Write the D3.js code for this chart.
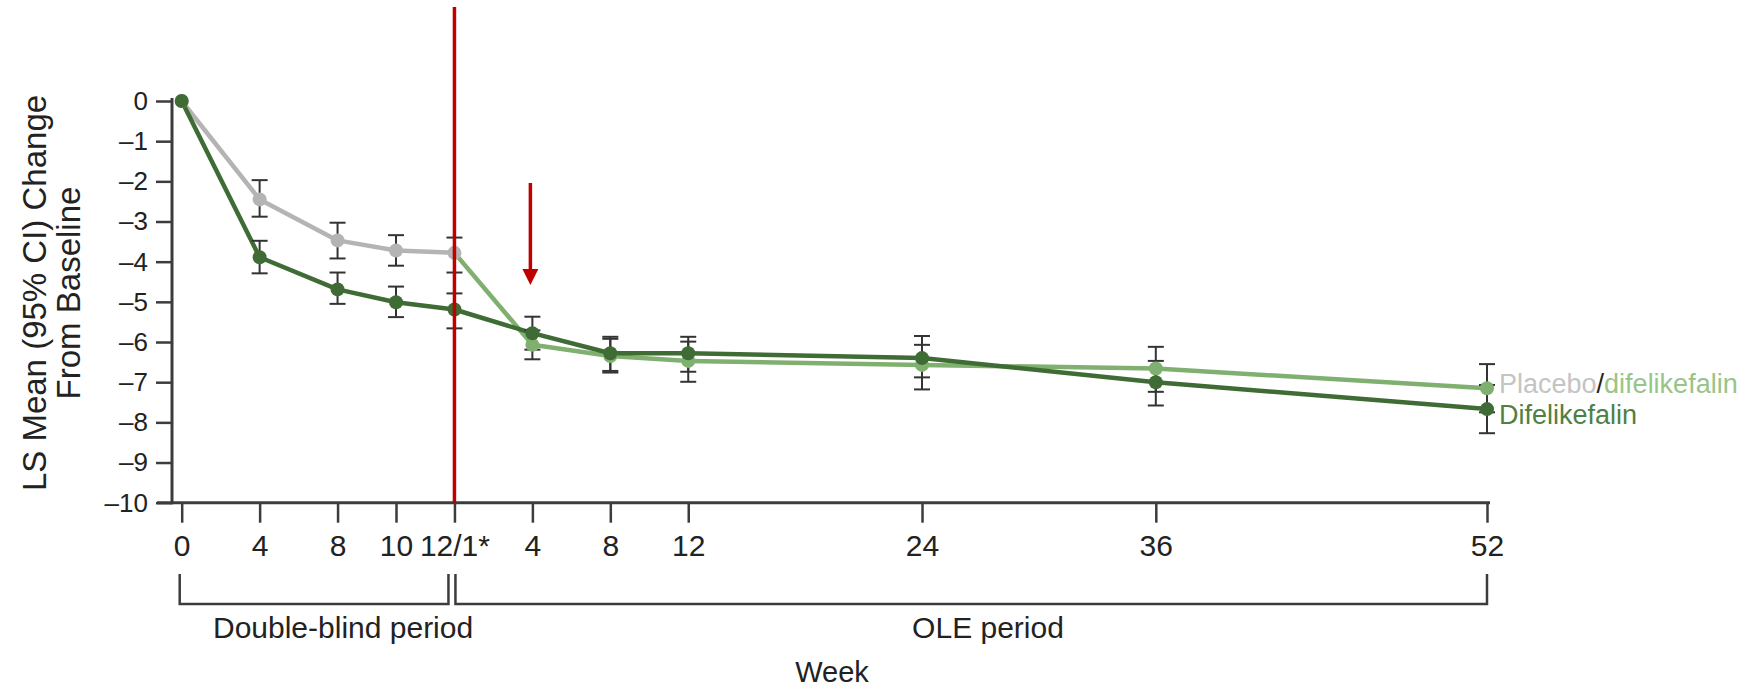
<!DOCTYPE html>
<html>
<head>
<meta charset="utf-8">
<script src="https://cdn.jsdelivr.net/npm/d3@7"></script>
<style>
    body { margin: 0; background: #fff; }
    svg { display: block; font-family: Arial, "Liberation Sans", sans-serif; }
</style>
</head>
<body>
<div id="chart"></div>
<script>
// Visits (double-blind weeks, then OLE weeks)
const visitLabels = ["0", "4", "8", "10", "12/1*", "4", "8", "12", "24", "36", "52"];

// Placebo/difelikefalin: LS mean and 95% CI
const placeboMean  = [0, -2.45, -3.47, -3.72, -3.78, -6.07, -6.35, -6.47, -6.57, -6.66, -7.15];
const placeboUpper = [0, -1.97, -3.03, -3.34, -3.40, -5.71, -5.92, -5.99, -6.07, -6.12, -6.55];
const placeboLower = [0, -2.88, -3.92, -4.10, -4.27, -6.43, -6.76, -6.99, -7.18, -7.24, -7.75];

// Difelikefalin: LS mean and 95% CI
const difMean  = [0, -3.89, -4.69, -5.01, -5.19, -5.78, -6.28, -6.28, -6.40, -7.00, -7.67];
const difUpper = [0, -3.48, -4.27, -4.62, -4.79, -5.37, -5.87, -5.87, -5.85, -6.47, -7.07];
const difLower = [0, -4.29, -5.05, -5.38, -5.66, -6.19, -6.72, -6.74, -6.88, -7.58, -8.27];

const yTicks = d3.range(-10, 1);

// Colours
const grey = "#b4b4b4";
const lightGreen = "#80b06f";
const darkGreen = "#3f6b35";
const red = "#c00000";
const axisColor = "#3c3c3c";

// Set up SVG
const width = 1744;
const height = 687;

const svg = d3.select("#chart")
    .append("svg")
    .attr("width", width)
    .attr("height", height);

// The printed axis is not to scale: spacing between visits in week-like units
const axisGaps = [0, 4, 4, 3, 3, 4, 4, 4, 12, 12, 17];
const slot = Array.from(d3.cumsum(axisGaps));

const x = d3.scaleLinear()
    .domain([0, d3.max(slot)])
    .range([181.7, 1487]);

const y = d3.scaleLinear()
    .domain([-10, 0])
    .range([502.7, 101]);

const endDB = 4; // index of week 12 / OLE week 1

// Y axis
const yAxis = svg.append("g")
    .attr("transform", "translate(172,0)")
    .call(d3.axisLeft(y)
        .tickValues(yTicks)
        .tickSize(16)
        .tickPadding(8)
        .tickFormat(d => d < 0 ? "\u2013" + (-d) : d));
yAxis.select(".domain").remove();
yAxis.selectAll(".tick line").attr("stroke", axisColor).attr("stroke-width", 2.5);
yAxis.selectAll(".tick text").attr("font-size", 26).attr("fill", "#222");

svg.append("line")
    .attr("x1", 172).attr("x2", 172)
    .attr("y1", y(0) - 3).attr("y2", y(-10) + 1.5)
    .attr("stroke", axisColor)
    .attr("stroke-width", 3);

// X axis
const xAxis = svg.append("g")
    .attr("transform", `translate(0,${y(-10)})`)
    .call(d3.axisBottom(x)
        .tickValues(slot)
        .tickSize(20)
        .tickPadding(12)
        .tickFormat((d, i) => visitLabels[i]));
xAxis.select(".domain").remove();
xAxis.selectAll(".tick line").attr("stroke", axisColor).attr("stroke-width", 2.5);
xAxis.selectAll(".tick text").attr("font-size", 30).attr("fill", "#222");

svg.append("line")
    .attr("x1", 157).attr("x2", x(d3.max(slot)) + 3)
    .attr("y1", y(-10)).attr("y2", y(-10))
    .attr("stroke", axisColor)
    .attr("stroke-width", 3);

// Period brackets
const bracketTop = 574;
const bracketBottom = 604;
svg.append("path")
    .attr("d", `M${x(slot[0]) - 2},${bracketTop} V${bracketBottom} H${x(slot[endDB]) - 6} V${bracketTop}`)
    .attr("fill", "none")
    .attr("stroke", axisColor)
    .attr("stroke-width", 2.5);
svg.append("path")
    .attr("d", `M${x(slot[endDB]) + 1},${bracketTop} V${bracketBottom} H${x(slot[slot.length - 1])} V${bracketTop}`)
    .attr("fill", "none")
    .attr("stroke", axisColor)
    .attr("stroke-width", 2.5);

svg.append("text")
    .attr("x", (x(slot[0]) + x(slot[endDB])) / 2 + 25)
    .attr("y", 638)
    .attr("text-anchor", "middle")
    .attr("font-size", 30)
    .attr("fill", "#222")
    .text("Double-blind period");

svg.append("text")
    .attr("x", 988)
    .attr("y", 638)
    .attr("text-anchor", "middle")
    .attr("font-size", 30)
    .attr("fill", "#222")
    .text("OLE period");

svg.append("text")
    .attr("x", 832)
    .attr("y", 682)
    .attr("text-anchor", "middle")
    .attr("font-size", 29)
    .attr("fill", "#222")
    .text("Week");

// Y axis title (two lines)
const yTitle = ["LS Mean (95% CI) Change", "From Baseline"];
yTitle.forEach((t, i) => {
    svg.append("text")
        .attr("transform", `translate(${46 + i * 34},293) rotate(-90)`)
        .attr("text-anchor", "middle")
        .attr("font-size", 33)
        .attr("fill", "#222")
        .text(t);
});

// Series
const placebo = placeboMean.map((m, i) => ({i, m, hi: placeboUpper[i], lo: placeboLower[i]}));
const dif = difMean.map((m, i) => ({i, m, hi: difUpper[i], lo: difLower[i]}));

const lineGroup = svg.append("g");
const barGroup = svg.append("g");
const pointGroup = svg.append("g");

// Placebo line segments: grey during double-blind, light green after switch
for (let i = 0; i < placebo.length - 1; i++) {
    lineGroup.append("line")
        .attr("x1", x(slot[i])).attr("y1", y(placebo[i].m))
        .attr("x2", x(slot[i + 1])).attr("y2", y(placebo[i + 1].m))
        .attr("stroke", i + 1 <= endDB ? grey : lightGreen)
        .attr("stroke-width", 4.5)
        .attr("stroke-linecap", "round");
}

const line = d3.line()
    .x(d => x(slot[d.i]))
    .y(d => y(d.m));

lineGroup.append("path")
    .datum(dif)
    .attr("d", line)
    .attr("fill", "none")
    .attr("stroke", darkGreen)
    .attr("stroke-width", 4.5)
    .attr("stroke-linejoin", "round");

// Error bars
function drawErrorBars(data) {
    data.filter(d => d.hi !== d.lo).forEach(d => {
        const cx = x(slot[d.i]);
        barGroup.append("line")
            .attr("x1", cx).attr("x2", cx)
            .attr("y1", y(d.hi)).attr("y2", y(d.lo))
            .attr("stroke", "#333").attr("stroke-width", 2);
        [d.hi, d.lo].forEach(v => {
            barGroup.append("line")
                .attr("x1", cx - 8).attr("x2", cx + 8)
                .attr("y1", y(v)).attr("y2", y(v))
                .attr("stroke", "#333").attr("stroke-width", 2);
        });
    });
}
drawErrorBars(placebo);
drawErrorBars(dif);

// Points
pointGroup.selectAll(".pbo")
    .data(placebo)
    .join("circle")
    .attr("class", "pbo")
    .attr("cx", d => x(slot[d.i]))
    .attr("cy", d => y(d.m))
    .attr("r", 7)
    .attr("fill", d => d.i <= endDB ? grey : lightGreen);

pointGroup.selectAll(".dif")
    .data(dif)
    .join("circle")
    .attr("class", "dif")
    .attr("cx", d => x(slot[d.i]))
    .attr("cy", d => y(d.m))
    .attr("r", 7)
    .attr("fill", darkGreen);

// Series labels at the line ends
const last = slot.length - 1;
const label1 = svg.append("text")
    .attr("x", x(slot[last]) + 12)
    .attr("y", y(placeboMean[last]) + 5)
    .attr("font-size", 27);
label1.append("tspan").attr("fill", "#c4c4c4").text("Placebo");
label1.append("tspan").attr("fill", "#222").text("/");
label1.append("tspan").attr("fill", "#98c488").text("difelikefalin");

svg.append("text")
    .attr("x", x(slot[last]) + 12)
    .attr("y", y(difMean[last]) + 15)
    .attr("font-size", 27)
    .attr("fill", "#4f8043")
    .text("Difelikefalin");

// Red marker line at end of double-blind period
svg.append("line")
    .attr("x1", x(slot[endDB])).attr("x2", x(slot[endDB]))
    .attr("y1", 7).attr("y2", y(-10))
    .attr("stroke", red)
    .attr("stroke-width", 3.5);

// Red arrow above OLE week 4
const ax = x(slot[endDB + 1]) - 2;
svg.append("line")
    .attr("x1", ax).attr("x2", ax)
    .attr("y1", 183).attr("y2", 271)
    .attr("stroke", red)
    .attr("stroke-width", 3.5);
svg.append("path")
    .attr("d", `M${ax - 8},269 L${ax + 8},269 L${ax},285 Z`)
    .attr("fill", red);
</script>
</body>
</html>
